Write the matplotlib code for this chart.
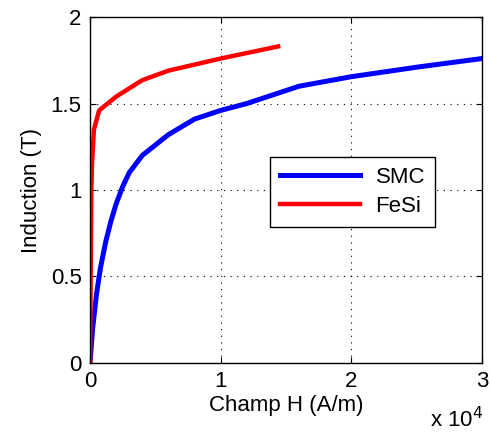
import matplotlib
matplotlib.use('Agg')
import matplotlib.pyplot as plt

plt.rcParams['font.family'] = ['Liberation Sans', 'DejaVu Sans']

# courbes B(H)
h_smc = [0, 200, 500, 800, 1200, 1600, 2000, 2500, 3000, 4000, 6000, 8000,
         10000, 12000, 16000, 20000, 25000, 30000]
b_smc = [0, 0.2, 0.4, 0.55, 0.7, 0.82, 0.92, 1.02, 1.1, 1.2, 1.32, 1.41,
         1.46, 1.5, 1.6, 1.655, 1.71, 1.76]

h_fesi = [0, 50, 100, 150, 300, 700, 2000, 4000, 6000, 10000, 14400]
b_fesi = [0, 0.5, 1.0, 1.15, 1.35, 1.46, 1.54, 1.635, 1.69, 1.76, 1.83]

xticks = [0, 10000, 20000, 30000]
xticklabels = ['0', '1', '2', '3']
yticks = [0, 0.5, 1, 1.5, 2]
yticklabels = ['0', '0.5', '1', '1.5', '2']

fs = 16

fig = plt.figure(figsize=(4.9, 4.33), dpi=100)
ax = fig.add_axes([0.1837, 0.1617, 0.8, 0.799])

ax.plot(h_smc, b_smc, color='#0000ff', lw=3.6, label='SMC')
ax.plot(h_fesi, b_fesi, color='#ff0000', lw=3.2, label='FeSi')

ax.set_xlim(0, 30000)
ax.set_ylim(0, 2)
ax.set_xticks(xticks)
ax.set_xticklabels(xticklabels)
ax.set_yticks(yticks)
ax.set_yticklabels(yticklabels)
ax.tick_params(direction='in', top=True, right=True, labelsize=fs, length=4, width=0.8, pad=6)
ax.grid(True, linestyle=(0, (1, 5)), color='black', lw=0.8)
for s in ax.spines.values():
    s.set_linewidth(1.0)

ax.set_xlabel('Champ H (A/m)', fontsize=fs, labelpad=2)
ax.set_ylabel('Induction (T)', fontsize=fs, labelpad=6)
fig.text(0.877, 0.003, r'x 10$^{4}$', fontsize=fs, ha='left', va='bottom')

leg = ax.legend(loc='upper left', bbox_to_anchor=(0.459, 0.595), fontsize=fs,
                fancybox=False, edgecolor='black', framealpha=1, handlelength=3.6,
                borderpad=0.45, labelspacing=0.35, handletextpad=0.7,
                borderaxespad=0)
leg.get_frame().set_linewidth(1.0)

fig.savefig('out.png', dpi=100)
